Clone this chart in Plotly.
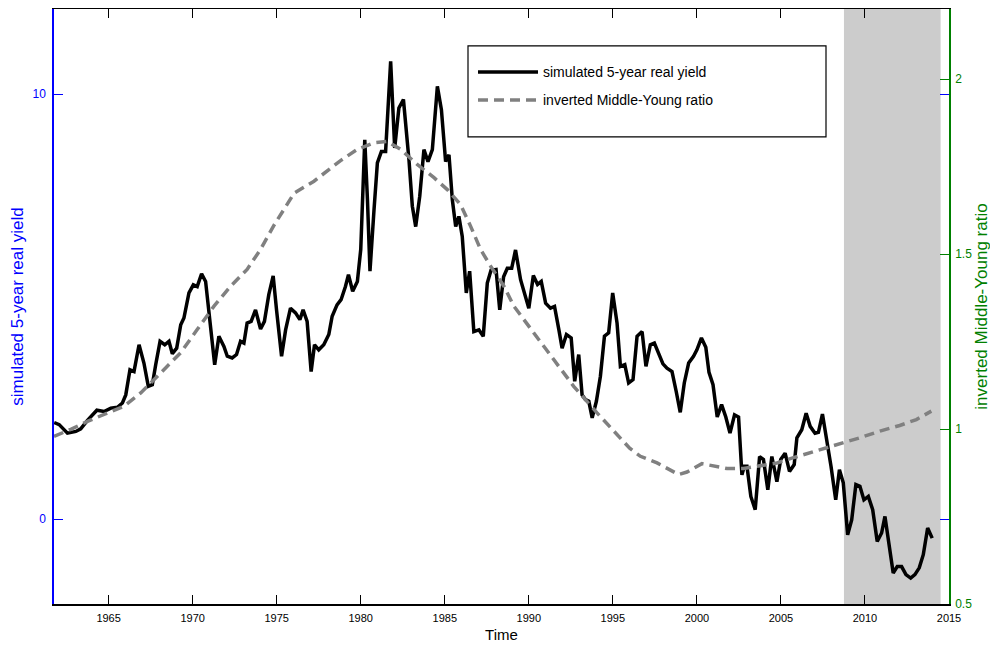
import plotly.graph_objects as go

# ---------------- data ----------------
yield_years = [1961.76, 1962.06, 1962.55, 1963.05, 1963.34, 1963.74, 1964.30, 1964.73, 1965.13, 1965.52,
               1965.82, 1966.02, 1966.27, 1966.51, 1966.81, 1967.10, 1967.36, 1967.60, 1967.80, 1968.06,
               1968.34, 1968.59, 1968.79, 1969.05, 1969.29, 1969.48, 1969.78, 1970.04, 1970.27, 1970.53,
               1970.77, 1970.97, 1971.10, 1971.31, 1971.56, 1971.86, 1972.06, 1972.35, 1972.61, 1972.85,
               1973.05, 1973.24, 1973.48, 1973.74, 1974.04, 1974.27, 1974.53, 1974.79, 1974.99, 1975.29,
               1975.53, 1975.82, 1976.12, 1976.38, 1976.57, 1976.81, 1977.05, 1977.25, 1977.50, 1977.80,
               1978.10, 1978.30, 1978.59, 1978.83, 1979.09, 1979.27, 1979.52, 1979.80, 1980.00, 1980.24,
               1980.40, 1980.55, 1980.79, 1980.99, 1981.23, 1981.48, 1981.78, 1982.02, 1982.27, 1982.54,
               1982.87, 1983.07, 1983.27, 1983.51, 1983.76, 1984.00, 1984.26, 1984.56, 1984.80, 1985.05,
               1985.25, 1985.45, 1985.65, 1985.84, 1986.04, 1986.28, 1986.48, 1986.73, 1987.03, 1987.29,
               1987.53, 1987.75, 1988.05, 1988.27, 1988.50, 1988.72, 1988.98, 1989.21, 1989.51, 1989.80,
               1990.00, 1990.27, 1990.52, 1990.74, 1991.00, 1991.29, 1991.53, 1991.79, 1991.98, 1992.24,
               1992.52, 1992.73, 1992.97, 1993.17, 1993.37, 1993.57, 1993.77, 1994.02, 1994.26, 1994.50,
               1994.75, 1994.99, 1995.25, 1995.45, 1995.71, 1995.94, 1996.20, 1996.44, 1996.74, 1996.97,
               1997.23, 1997.47, 1997.72, 1997.98, 1998.22, 1998.52, 1998.77, 1999.01, 1999.25, 1999.51,
               1999.80, 2000.00, 2000.27, 2000.53, 2000.72, 2000.96, 2001.21, 2001.47, 2001.72, 2001.97,
               2002.24, 2002.48, 2002.68, 2002.82, 2002.98, 2003.21, 2003.47, 2003.73, 2003.96, 2004.22,
               2004.46, 2004.76, 2004.99, 2005.25, 2005.51, 2005.79, 2005.95, 2006.24, 2006.50, 2006.74,
               2007.03, 2007.23, 2007.47, 2007.73, 2007.98, 2008.26, 2008.48, 2008.71, 2008.97, 2009.21,
               2009.46, 2009.70, 2009.94, 2010.20, 2010.46, 2010.73, 2010.99, 2011.19, 2011.45, 2011.68,
               2011.92, 2012.18, 2012.44, 2012.72, 2012.97, 2013.23, 2013.47, 2013.73, 2014.00]

real_yield = [2.27, 2.22, 2.02, 2.06, 2.12, 2.32, 2.56, 2.53, 2.61, 2.63,
              2.73, 2.92, 3.51, 3.47, 4.10, 3.67, 3.12, 3.16, 3.63, 4.18,
              4.10, 4.18, 3.89, 4.02, 4.57, 4.73, 5.32, 5.51, 5.47, 5.77,
              5.59, 4.85, 4.22, 3.63, 4.30, 4.06, 3.83, 3.79, 3.87, 4.18,
              4.14, 4.61, 4.65, 4.92, 4.47, 4.65, 5.28, 5.72, 4.92, 3.83,
              4.45, 4.96, 4.85, 4.69, 4.92, 4.65, 3.47, 4.10, 3.98, 4.10,
              4.34, 4.77, 5.04, 5.16, 5.47, 5.75, 5.36, 5.59, 6.34, 8.92,
              7.51, 5.83, 7.28, 8.38, 8.65, 8.65, 10.77, 8.73, 9.67, 9.87,
              8.45, 7.36, 6.88, 7.59, 8.69, 8.41, 8.69, 10.18, 9.63, 8.41,
              8.57, 7.51, 6.88, 7.12, 6.65, 5.32, 5.83, 4.41, 4.45, 4.30,
              5.55, 5.85, 5.87, 4.92, 5.70, 5.90, 5.90, 6.33, 5.63, 5.25,
              4.96, 5.73, 5.52, 5.59, 5.08, 4.96, 5.00, 4.45, 4.02, 4.34,
              4.26, 3.24, 3.87, 2.92, 2.81, 2.77, 2.38, 2.77, 3.36, 4.30,
              4.38, 5.32, 4.61, 3.59, 3.63, 3.20, 3.28, 4.30, 4.41, 3.59,
              4.10, 4.14, 3.91, 3.65, 3.55, 3.47, 3.00, 2.51, 3.20, 3.67,
              3.83, 3.98, 4.26, 4.04, 3.45, 3.16, 2.40, 2.69, 2.40, 2.02,
              2.45, 2.40, 1.04, 1.24, 1.24, 0.53, 0.22, 1.47, 1.40, 0.69,
              1.47, 0.88, 1.40, 1.55, 1.12, 1.28, 1.91, 2.10, 2.49, 2.18,
              2.02, 2.04, 2.47, 1.87, 1.24, 0.45, 1.16, 0.85, -0.37, -0.02,
              0.81, 0.77, 0.45, 0.53, 0.22, -0.53, -0.33, 0.06, -0.64, -1.27,
              -1.12, -1.12, -1.31, -1.39, -1.31, -1.15, -0.84, -0.21, -0.45]

ratio_years = [1961.75, 1962.75, 1963.74, 1964.73, 1965.92, 1966.91, 1968.10, 1969.29, 1970.27, 1971.27,
               1972.26, 1973.24, 1974.04, 1974.85, 1975.74, 1976.04, 1977.22, 1978.80, 1979.80, 1980.79,
               1981.58, 1982.37, 1983.36, 1984.36, 1985.15, 1985.94, 1986.54, 1987.13, 1987.73, 1988.52,
               1989.11, 1990.10, 1992.67, 1994.06, 1995.45, 1996.00, 1996.64, 1997.63, 1998.91, 1999.41,
               2000.30, 2000.90, 2001.79, 2002.78, 2003.77, 2004.76, 2005.75, 2006.74, 2007.73, 2008.71,
               2009.70, 2010.89, 2012.07, 2013.06, 2013.95]

inv_mid_young = [0.979, 0.999, 1.022, 1.041, 1.065, 1.103, 1.161, 1.218, 1.284, 1.351,
                 1.408, 1.456, 1.513, 1.583, 1.651, 1.674, 1.708, 1.767, 1.799, 1.818,
                 1.822, 1.799, 1.756, 1.718, 1.684, 1.641, 1.579, 1.513, 1.465, 1.408,
                 1.351, 1.287, 1.122, 1.046, 0.972, 0.945, 0.922, 0.903, 0.870, 0.877,
                 0.901, 0.896, 0.887, 0.887, 0.896, 0.903, 0.918, 0.932, 0.946, 0.962,
                 0.975, 0.994, 1.010, 1.027, 1.051]

shade_start = 2008.75
shade_end = 2014.5

x_ticks = [1965, 1970, 1975, 1980, 1985, 1990, 1995, 2000, 2005, 2010, 2015]
left_ticks = [0, 10]
right_ticks = [0.5, 1, 1.5, 2]
right_tick_labels = ["0.5", "1", "1.5", "2"]

series_names = ["simulated 5-year real yield", "inverted Middle-Young ratio"]

# ---------------- layout helpers ----------------
# the page body adds an 8px offset, so the figure is 8px smaller than the window
OFF = 8
W, H = 998 - OFF, 646 - OFF
PLOT_L, PLOT_R, PLOT_T, PLOT_B = 54, 949, 9, 604.5     # plot area in page pixels
L = PLOT_L - OFF
R = W - (PLOT_R - OFF)
T = PLOT_T - OFF
B = H - (PLOT_B - OFF)
PW, PH = W - L - R, H - T - B


def px_x(p):
    return (p - PLOT_L) / PW


def px_y(p):
    return (PLOT_B - p) / PH


BLUE = "#0000FF"
GREEN = "#008000"
FONT = "Liberation Sans, Arial, Helvetica, sans-serif"

fig = go.Figure()
fig.add_trace(go.Scatter(x=yield_years, y=real_yield, mode="lines", name=series_names[0],
                         line=dict(color="black", width=3.5), yaxis="y", showlegend=False))
fig.add_trace(go.Scatter(x=ratio_years, y=inv_mid_young, mode="lines", name=series_names[1],
                         line=dict(color="#808080", width=3.5, dash="10px,6px"), yaxis="y2",
                         showlegend=False))

shapes = [
    dict(type="rect", xref="x", yref="paper", x0=shade_start, x1=shade_end, y0=0, y1=1,
         fillcolor="#CCCCCC", line=dict(width=0), layer="below"),
    # legend box
    dict(type="rect", xref="paper", yref="paper", x0=px_x(468), x1=px_x(826), y0=px_y(137), y1=px_y(46),
         fillcolor="white", line=dict(color="black", width=1.2), layer="above"),
    dict(type="line", xref="paper", yref="paper", x0=px_x(478), x1=px_x(538), y0=px_y(72), y1=px_y(72),
         line=dict(color="black", width=3.5), layer="above"),
    dict(type="line", xref="paper", yref="paper", x0=px_x(478), x1=px_x(538), y0=px_y(100), y1=px_y(100),
         line=dict(color="#808080", width=3.5, dash="10px,6px"), layer="above"),
]

annotations = [
    dict(xref="paper", yref="paper", x=px_x(541), y=px_y(72), text=series_names[0], showarrow=False,
         xanchor="left", yanchor="middle", font=dict(family=FONT, size=14, color="black")),
    dict(xref="paper", yref="paper", x=px_x(541), y=px_y(100), text=series_names[1], showarrow=False,
         xanchor="left", yanchor="middle", font=dict(family=FONT, size=14, color="black")),
]

fig.update_layout(
    width=W, height=H,
    margin=dict(l=L, r=R, t=T, b=B, pad=0, autoexpand=False),
    plot_bgcolor="white", paper_bgcolor="white",
    font=dict(family=FONT, size=12, color="black"),
    shapes=shapes, annotations=annotations, showlegend=False,
    xaxis=dict(range=[1961.75, 2015], tickvals=x_ticks, ticks="inside", ticklen=9, tickwidth=1,
               tickcolor="black", showline=True, linecolor="black", linewidth=1.5, mirror="ticks",
               showgrid=False, zeroline=False, tickfont=dict(family=FONT, size=11, color="black"),
               ticklabelstandoff=3,
               title=dict(text="Time", font=dict(family=FONT, size=15, color="black"), standoff=7)),
    yaxis=dict(range=[-2, 12], tickvals=left_ticks, ticks="inside", ticklen=9, tickwidth=1,
               tickcolor=BLUE, showline=True, linecolor=BLUE, linewidth=1.5, mirror="ticks",
               showgrid=False, zeroline=False, tickfont=dict(family=FONT, size=12, color=BLUE),
               ticklabelstandoff=4,
               title=dict(text="simulated 5-year real yield", font=dict(family=FONT, size=17, color=BLUE),
                          standoff=10)),
    yaxis2=dict(range=[0.5, 2.2], tickvals=right_ticks, ticktext=right_tick_labels, overlaying="y",
                side="right", ticks="inside", ticklen=9, tickwidth=1, tickcolor=GREEN, showline=True,
                linecolor=GREEN, linewidth=1.5, showgrid=False, zeroline=False,
                tickfont=dict(family=FONT, size=12, color=GREEN), ticklabelstandoff=2,
                title=dict(text="inverted Middle-Young ratio", font=dict(family=FONT, size=17, color=GREEN),
                           standoff=2)),
)

fig.write_html("out.html")
